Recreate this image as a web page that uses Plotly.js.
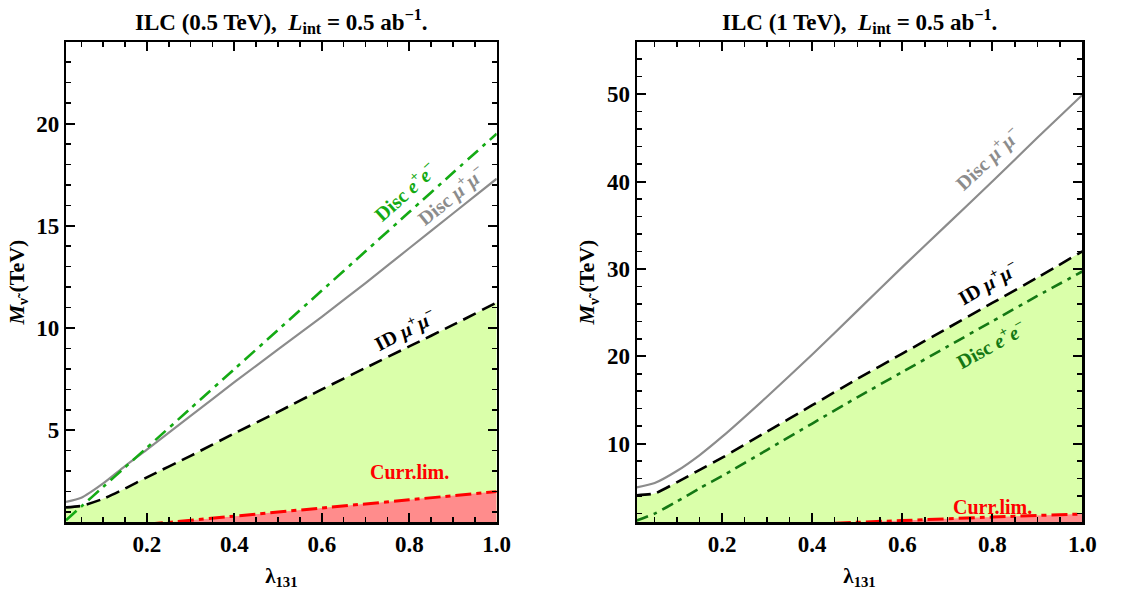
<!DOCTYPE html>
<html>
<head>
<meta charset="utf-8">
<script src="https://cdn.plot.ly/plotly-3.0.1.min.js"></script>
<style>html,body{margin:0;padding:0;background:#fff;}#chart{width:1144px;height:593px;}</style>
</head>
<body>
<div id="chart"></div>
<script>
// ---------- Left panel: ILC 0.5 TeV ----------
const xLeft = [0.015, 0.05, 0.1, 0.15, 0.2, 0.3, 0.4, 0.5, 0.6, 0.7, 0.8, 0.9, 1.0];
const discMuMuLeft = [1.5, 1.7, 2.4, 3.25, 4.05, 5.7, 7.35, 8.95, 10.55, 12.2, 13.9, 15.6, 17.3];
const discEELeft = [0.6, 1.27, 2.23, 3.19, 4.15, 6.07, 7.99, 9.91, 11.83, 13.75, 15.67, 17.59, 19.5];
const idMuMuLeft = [1.23, 1.3, 1.65, 2.15, 2.7, 3.75, 4.85, 5.9, 7.0, 8.05, 9.1, 10.15, 11.25];
const xCurrLeft = [0.2, 0.4, 0.6, 0.8, 1.0];
const currLimLeft = [0.4, 0.8, 1.2, 1.6, 2.0];

// ---------- Right panel: ILC 1 TeV ----------
const xRight = [0.01, 0.05, 0.1, 0.15, 0.2, 0.3, 0.4, 0.5, 0.6, 0.7, 0.8, 0.9, 1.0];
const discMuMuRight = [5.0, 5.5, 6.9, 8.7, 10.8, 15.4, 20.2, 25.2, 30.2, 35.1, 40.0, 45.0, 49.9];
const idMuMuRight = [4.1, 4.3, 5.6, 7.0, 8.4, 11.4, 14.4, 17.4, 20.3, 23.2, 26.1, 29.0, 32.0];
const discEERight = [1.2, 2.0, 3.4, 4.9, 6.3, 9.3, 12.3, 15.3, 18.2, 21.1, 24.0, 26.9, 29.7];
const xCurrRight = [0.45, 0.6, 0.8, 1.0];
const currLimRight = [0.9, 1.2, 1.6, 1.95];

// tick labels
const xTickVals = [0.2, 0.4, 0.6, 0.8, 1.0];
const xTickText = ['0.2', '0.4', '0.6', '0.8', '1.0'];
const yTickValsLeft = [5, 10, 15, 20];
const yTickTextLeft = ['5', '10', '15', '20'];
const yTickValsRight = [10, 20, 30, 40, 50];
const yTickTextRight = ['10', '20', '30', '40', '50'];

const titles = [
  '<b>ILC (0.5 TeV),\u00a0 <i>L</i><sub>int</sub> = 0.5 ab<sup>\u22121</sup>.</b>',
  '<b>ILC (1 TeV),\u00a0 <i>L</i><sub>int</sub> = 0.5 ab<sup>\u22121</sup>.</b>'
];

const FONT = 'Liberation Serif, Times New Roman, serif';
const FILL_GREEN = 'rgb(218,255,170)';
const FILL_RED = 'rgb(255,140,140)';
const GRAY = 'rgb(140,140,140)';
const GREEN_L = 'rgb(20,170,20)';
const GREEN_R = 'rgb(20,120,20)';

const bold = arr => arr.map(t => '<b>' + t + '</b>');

function sp(x, y, xa, ya, line, extra) {
  return Object.assign({x: x, y: y, xaxis: xa, yaxis: ya, mode: 'lines', type: 'scatter',
    line: Object.assign({shape: 'spline', smoothing: 0.6}, line), hoverinfo: 'skip', showlegend: false}, extra || {});
}

const traces = [
  sp(xLeft, idMuMuLeft, 'x', 'y', {color: 'black', width: 2.6, dash: '14px,7px'}, {fill: 'tozeroy', fillcolor: FILL_GREEN}),
  sp(xCurrLeft, currLimLeft, 'x', 'y', {color: 'red', width: 3, dash: '16px,5px,5px,5px'}, {fill: 'tozeroy', fillcolor: FILL_RED}),
  sp(xLeft, discMuMuLeft, 'x', 'y', {color: GRAY, width: 2.2}),
  sp(xLeft, discEELeft, 'x', 'y', {color: GREEN_L, width: 2.6, dash: '14px,6px,4px,6px'}),
  sp(xRight, idMuMuRight, 'x2', 'y2', {color: 'black', width: 2.6, dash: '14px,7px'}, {fill: 'tozeroy', fillcolor: FILL_GREEN}),
  sp(xCurrRight, currLimRight, 'x2', 'y2', {color: 'red', width: 3, dash: '16px,5px,5px,5px'}, {fill: 'tozeroy', fillcolor: FILL_RED}),
  sp(xRight, discMuMuRight, 'x2', 'y2', {color: GRAY, width: 2.2}),
  sp(xRight, discEERight, 'x2', 'y2', {color: GREEN_R, width: 2.6, dash: '12px,6px,4px,6px'})
];

const W = 1144, H = 593;
const plotTop = 41.7, plotBottom = 522.3;
const ydom = [1 - plotBottom / H, 1 - plotTop / H];
const xdomL = [66 / W, 496.7 / W];
const xdomR = [636.7 / W, 1082.3 / W];

function makeX(dom, range, anchor) {
  return {
    domain: dom, range: range, anchor: anchor, tickvals: xTickVals, ticktext: bold(xTickText),
    ticks: 'inside', ticklen: 9, tickwidth: 2, tickcolor: 'black',
    showline: true, linewidth: 2.2, linecolor: 'black', mirror: 'ticks',
    showgrid: false, zeroline: false,
    minor: {dtick: 0.05, tick0: 0, ticks: 'inside', ticklen: 5, tickwidth: 1.5, tickcolor: 'black', showgrid: false},
    tickfont: {family: FONT, size: 23, color: 'black'},
    title: {text: '<b>\u03bb<sub>131</sub></b>', font: {family: FONT, size: 21, color: 'black'}, standoff: 12}
  };
}
function makeY(dom, range, vals, text, minorD, anchor) {
  return {
    domain: dom, range: range, anchor: anchor, tickvals: vals, ticktext: bold(text),
    ticks: 'inside', ticklen: 9, tickwidth: 2, tickcolor: 'black',
    showline: true, linewidth: 2.2, linecolor: 'black', mirror: 'ticks',
    showgrid: false, zeroline: false,
    minor: {dtick: minorD, tick0: 0, ticks: 'inside', ticklen: 5, tickwidth: 1.5, tickcolor: 'black', showgrid: false},
    tickfont: {family: FONT, size: 23, color: 'black'},
    title: {text: '<b><i>M</i><sub>\u03bd\u0303</sub>\u00a0(TeV)</b>', font: {family: FONT, size: 22, color: 'black'}, standoff: 6}
  };
}

function lab(text, x, y, xr, yr, color, angle, size) {
  return {text: text, x: x, y: y, xref: xr, yref: yr, showarrow: false, textangle: angle,
    font: {family: FONT, size: size || 20, color: color}, xanchor: 'center', yanchor: 'middle'};
}

const annotations = [
  {text: titles[0], xref: 'paper', yref: 'paper', x: (xdomL[0] + xdomL[1]) / 2, y: 1 - 21 / H,
   showarrow: false, xanchor: 'center', yanchor: 'middle', font: {family: FONT, size: 23, color: 'black'}},
  {text: titles[1], xref: 'paper', yref: 'paper', x: (xdomR[0] + xdomR[1]) / 2, y: 1 - 21 / H,
   showarrow: false, xanchor: 'center', yanchor: 'middle', font: {family: FONT, size: 23, color: 'black'}},
  lab('<b>Disc <i>e</i><sup>+</sup><i>e</i><sup>\u2212</sup></b>', 0.79, 16.7, 'x', 'y', GREEN_L, -42),
  lab('<b>Disc <i>\u03bc</i><sup>+</sup><i>\u03bc</i><sup>\u2212</sup></b>', 0.895, 16.5, 'x', 'y', GRAY, -39),
  lab('<b>ID <i>\u03bc</i><sup>+</sup><i>\u03bc</i><sup>\u2212</sup></b>', 0.79, 9.95, 'x', 'y', 'black', -27),
  lab('<b>Curr.lim.</b>', 0.8, 2.97, 'x', 'y', 'red', 0),
  lab('<b>Disc <i>\u03bc</i><sup>+</sup><i>\u03bc</i><sup>\u2212</sup></b>', 0.79, 42.6, 'x2', 'y2', GRAY, -43),
  lab('<b>ID <i>\u03bc</i><sup>+</sup><i>\u03bc</i><sup>\u2212</sup></b>', 0.79, 28.5, 'x2', 'y2', 'black', -30),
  lab('<b>Disc <i>e</i><sup>+</sup><i>e</i><sup>\u2212</sup></b>', 0.796, 21.4, 'x2', 'y2', GREEN_R, -29),
  lab('<b>Curr.lim.</b>', 0.8, 2.75, 'x2', 'y2', 'red', 0)
];

const layout = {
  width: W, height: H, margin: {l: 0, r: 0, t: 0, b: 0},
  paper_bgcolor: 'white', plot_bgcolor: 'white', showlegend: false,
  xaxis: makeX(xdomL, [0.015, 1.0], 'y'),
  yaxis: makeY(ydom, [0.5, 24], yTickValsLeft, yTickTextLeft, 1, 'x'),
  xaxis2: makeX(xdomR, [0.01, 1.0], 'y2'),
  yaxis2: makeY(ydom, [1, 56], yTickValsRight, yTickTextRight, 2, 'x2'),
  annotations: annotations
};

Plotly.newPlot('chart', traces, layout, {displayModeBar: false, staticPlot: true});
</script>
</body>
</html>
